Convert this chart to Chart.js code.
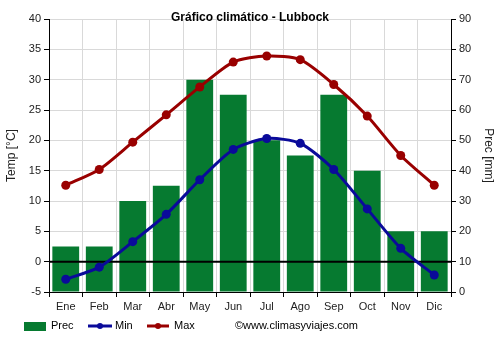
<!DOCTYPE html>
<html><head><meta charset="utf-8">
<script src="https://cdn.jsdelivr.net/npm/chart.js@4/dist/chart.umd.min.js"></script>
<style>html,body{margin:0;padding:0;background:#fff}#wrap{width:500px;height:350px;position:relative}</style>
</head><body><div id="wrap"><canvas id="c" width="500" height="350"></canvas></div>
<script>
const months = ["Ene","Feb","Mar","Abr","May","Jun","Jul","Ago","Sep","Oct","Nov","Dic"];
const prec = [15,15,30,35,70,65,50,45,65,40,20,20];
const tmin = [-2.9,-0.9,3.3,7.8,13.5,18.5,20.3,19.5,15.2,8.7,2.2,-2.2];
const tmax = [12.6,15.2,19.7,24.2,28.8,32.9,33.9,33.3,29.2,24.0,17.5,12.6];
const tempTicks = [-5,0,5,10,15,20,25,30,35,40];
const precTicks = [0,10,20,30,40,50,60,70,80,90];

const GREEN = "#067a30", BLUE = "#0a0a9a", RED = "#990000";
const FONT = "'Liberation Sans', Arial, sans-serif";

const extras = {
  id: "extras",
  afterDatasetDraw(chart, args) {
    if (args.index !== 0) return;
    const {ctx, chartArea} = chart;
    const y = chart.scales.y.getPixelForValue(0);
    ctx.save();
    ctx.strokeStyle = "#000"; ctx.lineWidth = 2;
    ctx.beginPath(); ctx.moveTo(chartArea.left, y); ctx.lineTo(chartArea.right, y); ctx.stroke();
    ctx.restore();
  },
  afterDraw(chart) {
    const ctx = chart.ctx;
    ctx.save();
    ctx.fillStyle = "#000";
    ctx.font = "bold 12px " + FONT;
    ctx.textAlign = "center"; ctx.textBaseline = "middle";
    ctx.fillText("Gráfico climático - Lubbock", 250, 18);
    ctx.font = "11px " + FONT;
    ctx.textAlign = "left";
    const ly = 326;
    ctx.fillStyle = GREEN; ctx.fillRect(24, 322, 22, 9);
    ctx.fillStyle = "#000"; ctx.fillText("Prec", 51, ly);
    ctx.strokeStyle = BLUE; ctx.lineWidth = 3;
    ctx.beginPath(); ctx.moveTo(88, ly); ctx.lineTo(112, ly); ctx.stroke();
    ctx.fillStyle = BLUE; ctx.beginPath(); ctx.arc(100, ly, 3, 0, Math.PI*2); ctx.fill();
    ctx.fillStyle = "#000"; ctx.fillText("Min", 115, ly);
    ctx.strokeStyle = RED;
    ctx.beginPath(); ctx.moveTo(147, ly); ctx.lineTo(169, ly); ctx.stroke();
    ctx.fillStyle = RED; ctx.beginPath(); ctx.arc(158, ly, 3, 0, Math.PI*2); ctx.fill();
    ctx.fillStyle = "#000"; ctx.fillText("Max", 174, ly);
    ctx.fillText("©www.climasyviajes.com", 235, ly);
    ctx.restore();
  }
};

new Chart(document.getElementById("c"), {
  type: "bar",
  data: {
    labels: months,
    datasets: [
      {type:"bar", label:"Prec", data: prec, yAxisID:"y1", backgroundColor: GREEN, order: 3,
       categoryPercentage: 1, barPercentage: 0.8},
      {type:"line", label:"Min", data: tmin, yAxisID:"y", borderColor: BLUE, backgroundColor: BLUE,
       borderWidth: 3, pointRadius: 4.5, pointBorderWidth: 0, pointHoverRadius: 4.5, tension: 0.25, order: 1},
      {type:"line", label:"Max", data: tmax, yAxisID:"y", borderColor: RED, backgroundColor: RED,
       borderWidth: 3, pointRadius: 4.5, pointBorderWidth: 0, pointHoverRadius: 4.5, tension: 0.25, order: 2}
    ]
  },
  options: {
    responsive: false, animation: false,
    layout: {padding: {top: 19, left: 0, right: 0, bottom: 0}},
    plugins: {legend: {display: false}, title: {display: false}, tooltip: {enabled: false}},
    scales: {
      x: {
        offset: true,
        grid: {color: "#d9d9d9", offset: true, tickLength: 5, tickColor: "#000"},
        border: {color: "#000", width: 1},
        ticks: {color: "#222", font: {family: FONT, size: 11}, padding: 3, maxRotation: 0},
        afterFit(s) { s.height = 58; }
      },
      y: {
        position: "left", min: -5, max: 40,
        afterBuildTicks(s) { s.ticks = tempTicks.map(v => ({value: v})); },
        grid: {color: "#d9d9d9", tickLength: 5, tickColor: "#000"},
        border: {color: "#000", width: 1},
        ticks: {color: "#222", font: {family: FONT, size: 11}, padding: 3},
        title: {display: true, text: "Temp [°C]", color: "#222", font: {family: FONT, size: 12}, padding: {top: 4, bottom: 0}},
        afterFit(s) { s.width = 49; }
      },
      y1: {
        position: "right", min: 0, max: 90,
        afterBuildTicks(s) { s.ticks = precTicks.map(v => ({value: v})); },
        grid: {drawOnChartArea: false, tickLength: 5, tickColor: "#000"},
        border: {color: "#000", width: 1},
        ticks: {color: "#222", font: {family: FONT, size: 11}, padding: 3},
        title: {display: true, text: "Prec [mm]", color: "#222", font: {family: FONT, size: 12}, padding: {top: 4, bottom: 0}},
        afterFit(s) { s.width = 49; }
      }
    }
  },
  plugins: [extras]
});
</script></body></html>
